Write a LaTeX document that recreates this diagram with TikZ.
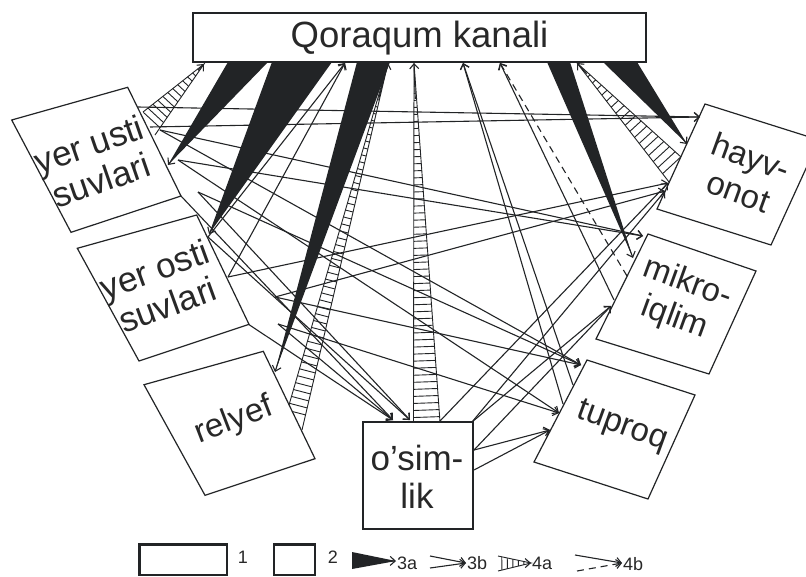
\documentclass[tikz,border=0pt]{standalone}
\usepackage{fontspec}
\setmainfont{Liberation Sans}
\usetikzlibrary{arrows.meta,calc}
\definecolor{inkc}{RGB}{34,36,38}
\definecolor{txtc}{RGB}{40,40,40}
\tikzset{
  box/.style={draw=inkc, line width=1.2pt, fill=white},
  legbox/.style={draw=inkc, line width=2.4pt},
  arr/.style={draw=inkc, line width=1.1pt, -{Straight Barb[length=5pt,width=9pt]}},
  dasharr/.style={arr, dash pattern=on 7pt off 5pt},
  hline/.style={draw=inkc, line width=0.9pt},
  btxt/.style={text=txtc, align=center, inner sep=0pt, font=\fontsize{33}{37}\selectfont},
  bigtxt/.style={btxt, font=\fontsize{35}{38}\selectfont},
  qtxt/.style={text=txtc, inner sep=0pt, font=\fontsize{36.5}{40}\selectfont},
  legtxt/.style={text=txtc, inner sep=0pt, font=\fontsize{18}{21}\selectfont}
}
\newcommand\blackwedge[3]{%
  \fill[inkc] (#1) -- (#2) -- (#3) -- cycle;
  \coordinate (bwm) at ($(#1)!0.5!(#2)$);
  \draw[arr] ($(bwm)!0.9!(#3)$) -- (#3);
}
\newcommand\hatchwedge[4]{%
  \coordinate (hwm) at ($(#1)!0.5!(#2)$);
  \begin{scope}
    \clip (#1) -- (#2) -- (#3) -- cycle;
    \foreach \hwi in {1,...,#4}{
      \pgfmathsetmacro\hwt{(\hwi-0.3)/(#4+1)}
      \coordinate (hwp) at ($(hwm)!\hwt!(#3)$);
      \draw[hline] ($(hwp)!40pt!90:(#3)$) -- ($(hwp)!40pt!-90:(#3)$);
    }
  \end{scope}
  \draw[hline] (#1) -- (#3) -- (#2);
  \draw[arr] ($(hwm)!0.9!(#3)$) -- (#3);
}
\begin{document}
\begin{tikzpicture}[x=1pt,y=-1pt]
\useasboundingbox (0,0) rectangle (806,576);
\clip (0,0) rectangle (806,576);
\fill[white] (0,0) rectangle (806,576);

% ---------- boxes ----------
\draw[box] (193,13) rectangle (646,62);
\node[qtxt] (Q) at (419.5,38) {Qoraqum kanali};

\draw[box] (11.7,120) -- (127.7,87.3) -- (181,196) -- (71,232.3) -- cycle;
\node[bigtxt, rotate=19] (usti) at (95,162) {yer usti\\suvlari};

\draw[box] (77.3,248.3) -- (196.7,215) -- (249,324.3) -- (139,361) -- cycle;
\node[bigtxt, rotate=20] (osti) at (161,287) {yer osti\\suvlari};

\draw[box] (144,384.7) -- (263.3,351.3) -- (315,458.7) -- (205,495.3) -- cycle;
\node[btxt, rotate=21] (relyef) at (234,421) {relyef};

\draw[box] (363,422) rectangle (473,529);
\node[bigtxt] (osim) at (417,477) {o’sim-\\lik};

\draw[box] (587,360) -- (695,395) -- (648,499) -- (534,462) -- cycle;
\node[btxt, rotate=-20] (tuproq) at (622,427) {tuproq};

\draw[box] (648,234) -- (756,271) -- (709,374) -- (596,339) -- cycle;
\node[btxt, rotate=-20] (mikro) at (681,301) {mikro-\\iqlim};

\draw[box] (705,104) -- (819,140) -- (771,245) -- (657,209) -- cycle;
\node[btxt, rotate=-20] (hayv) at (745,174) {hayv-\\onot};

% ---------- attachment coordinates ----------
\coordinate (us1) at (138,107);
\coordinate (us2) at (150,127);
\coordinate (us3) at (160,130);
\coordinate (us4) at (178,160);
\coordinate (us5) at (198,192);
\coordinate (us6) at (181,196);
\coordinate (yo1) at (208,237);
\coordinate (yo2) at (228,277);
\coordinate (yo3) at (248,324);
\coordinate (v1) at (275,297);
\coordinate (v2) at (278,324);
\coordinate (ps4) at (440,421);
\coordinate (ps5) at (472,422);
\coordinate (ps6) at (474,450);
\coordinate (ps7) at (474,470);
\coordinate (tp1) at (563,404);
\coordinate (tp2) at (573,385);
\coordinate (mk1) at (614,300);
\coordinate (mk2) at (627,276);

\coordinate (hv1) at (700,117);
\coordinate (hv2) at (668,183);
\coordinate (hv3) at (665,191);
\coordinate (mkA) at (643,236);
\coordinate (mkB) at (611,306);
\coordinate (tpA) at (581,365);
\coordinate (tpB) at (559,413);
\coordinate (tpC) at (550,430);
\coordinate (osA) at (393,420);
\coordinate (osB) at (410,420);
\coordinate (qA) at (345,63);
\coordinate (qB) at (463,63);
\coordinate (qC) at (500,63);

% ---------- thin connectors ----------
\draw[arr] (us1) -- (hv1);
\draw[arr] (us2) -- (hv1);
\draw[arr] (us3) -- (mkA);
\draw[arr] (us3) -- (tpA);
\draw[arr] (us4) -- (mkA);
\draw[arr] (us4) -- (tpB);
\draw[arr] (us5) -- (tpA);
\draw[arr] (us5) -- (osB);
\draw[arr] (us6) -- (osA);
\draw[arr] (yo1) -- (qA);
\draw[arr] (yo1) -- (osB);
\draw[arr] (yo2) -- (qA);
\draw[arr] (yo2) -- (hv2);
\draw[arr] (yo3) -- (osA);
\draw[arr] (v1) -- (hv3);
\draw[arr] (v1) -- (tpA);
\draw[arr] (v2) -- (osA);
\draw[arr] (v2) -- (tpB);
\draw[arr] (ps4) -- (hv2);
\draw[arr] (ps5) -- (hv3);
\draw[arr] (ps5) -- (mkB);
\draw[arr] (ps6) -- (mkB);
\draw[arr] (ps6) -- (tpC);
\draw[arr] (ps7) -- (tpC);
\draw[arr] (tp1) -- (qB);
\draw[arr] (tp2) -- (qB);
\draw[arr] (mk1) -- (qC);
\draw[dasharr] (mk2) -- (qC);

% ---------- black wedges (3a) ----------
\coordinate (w1a) at (228,62); \coordinate (w1b) at (268,62); \coordinate (w1t) at (168,165);
\coordinate (w2a) at (272,62); \coordinate (w2b) at (332,62); \coordinate (w2t) at (209,234);
\coordinate (w3a) at (357,62); \coordinate (w3b) at (390,62); \coordinate (w3t) at (275,372);
\coordinate (w4a) at (547,62); \coordinate (w4b) at (570,62); \coordinate (w4t) at (633,258);
\coordinate (w5a) at (603,62); \coordinate (w5b) at (637,62); \coordinate (w5t) at (687,144);
\blackwedge{w1a}{w1b}{w1t}
\blackwedge{w2a}{w2b}{w2t}
\blackwedge{w3a}{w3b}{w3t}
\blackwedge{w4a}{w4b}{w4t}
\blackwedge{w5a}{w5b}{w5t}

% ---------- hatched wedges (4a) ----------
\coordinate (h1a) at (143,112); \coordinate (h1b) at (155,135); \coordinate (h1t) at (204,64);
\coordinate (h2a) at (289,405); \coordinate (h2b) at (302,430); \coordinate (h2t) at (388,63);
\coordinate (h3a) at (413.5,422); \coordinate (h3b) at (440,422); \coordinate (h3t) at (414,63);
\coordinate (h4a) at (681,157); \coordinate (h4b) at (669,182); \coordinate (h4t) at (577,63);
\hatchwedge{h1a}{h1b}{h1t}{12}
\hatchwedge{h2a}{h2b}{h2t}{50}
\hatchwedge{h3a}{h3b}{h3t}{50}
\hatchwedge{h4a}{h4b}{h4t}{18}

% ---------- legend ----------
\draw[legbox] (139.5,544.5) rectangle (227,575);
\node[legtxt] (l1) at (243,557) {1};
\draw[legbox] (274,544.5) rectangle (315,575);
\node[legtxt] (l2) at (333,557) {2};

\coordinate (g3a) at (352,552); \coordinate (g3b) at (352,569); \coordinate (g3t) at (396,561);
\blackwedge{g3a}{g3b}{g3t}
\node[legtxt, anchor=west] (l3a) at (397,563) {3a};

\coordinate (g4a) at (430,556); \coordinate (g4b) at (430,568); \coordinate (g4t) at (466,563);
\draw[arr] (g4a) -- (g4t);
\draw[arr] (g4b) -- (g4t);
\node[legtxt, anchor=west] (l3b) at (467,563) {3b};

\coordinate (g5a) at (498,556); \coordinate (g5b) at (498,571); \coordinate (g5t) at (531,563);
\hatchwedge{g5a}{g5b}{g5t}{5}
\node[legtxt, anchor=west] (l4a) at (532,563) {4a};

\coordinate (g6a) at (575,555); \coordinate (g6b) at (577,571); \coordinate (g6t) at (622,563);
\draw[arr] (g6a) -- (g6t);
\draw[dasharr] (g6b) -- (g6t);
\node[legtxt, anchor=west] (l4b) at (623,564) {4b};
\end{tikzpicture}
\end{document}
